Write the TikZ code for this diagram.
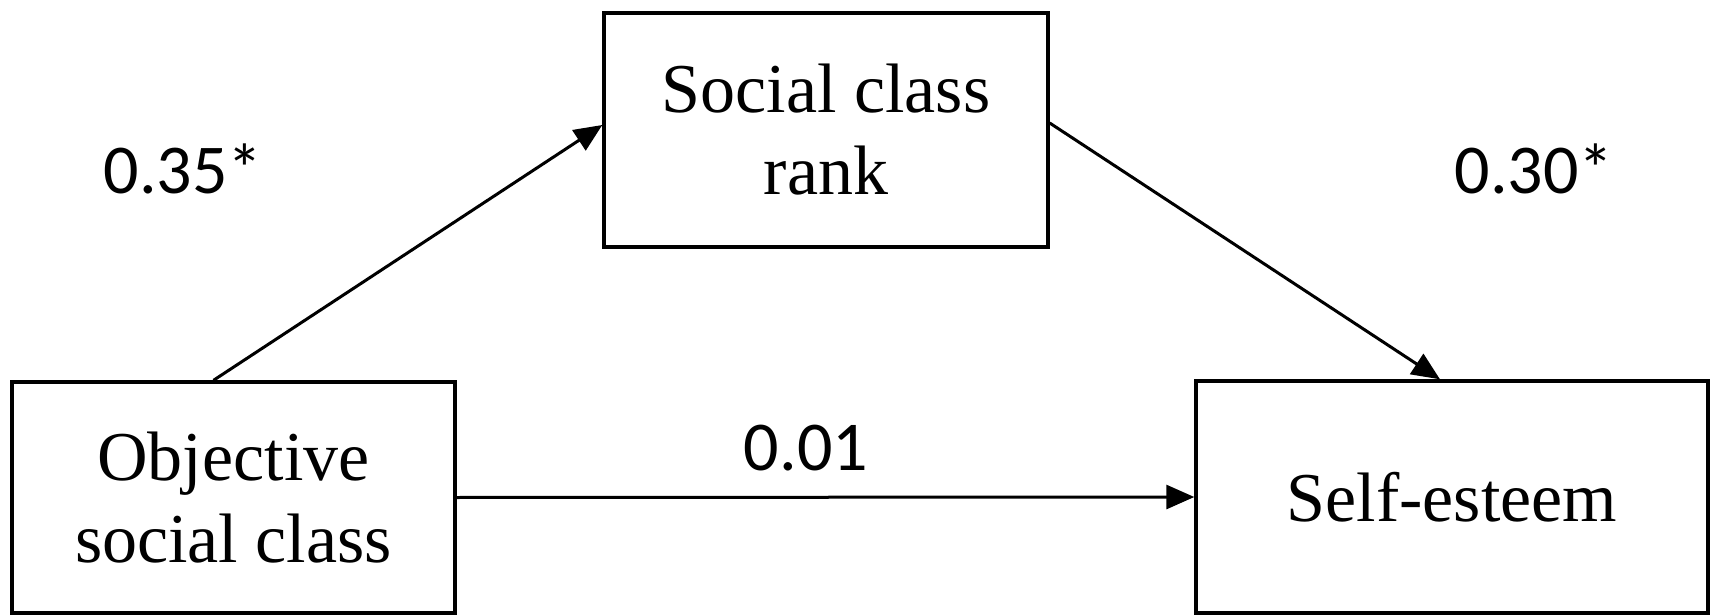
\documentclass[tikz,border=0pt]{standalone}
\usepackage{fontspec}
\setmainfont{Liberation Serif}
\newfontfamily\labelfont{Carlito}
\usetikzlibrary{arrows.meta}
\begin{document}
\begin{tikzpicture}[x=0.5pt,y=-0.5pt,
  varbox/.style={draw,line width=1.7pt,rectangle,inner sep=0pt,align=center,
    font=\fontsize{35}{41}\selectfont},
  arr/.style={line width=1.5pt,-{Triangle[length=14pt,width=12pt]}},
  coef/.style={anchor=base,inner sep=0pt,font=\labelfont\fontsize{35}{40}\selectfont}]
\useasboundingbox (0,0) rectangle (1710,615);
\node[varbox,minimum width=221.5pt,minimum height=115.5pt] (b1) at (233.5,497.5) {Objective\\social class};
\node[varbox,minimum width=222pt,minimum height=117pt] (b2) at (826,130) {Social class\\rank};
\node[varbox,minimum width=256pt,minimum height=116pt] (b3) at (1452,497) {Self-esteem};
\draw[arr] ([xshift=-10pt]b1.north) -- ([yshift=2.5pt]b2.west);
\draw[arr] ([yshift=3.5pt]b2.east) -- ([xshift=-6pt]b3.north);
\draw[arr] (b1.east) -- (b3.west);
\node[coef] (c1) at (183,193) {0.35*};
\node[coef] (c2) at (1534,193) {0.30*};
\node[coef] (c3) at (806,470) {0.01};
\end{tikzpicture}
\end{document}
